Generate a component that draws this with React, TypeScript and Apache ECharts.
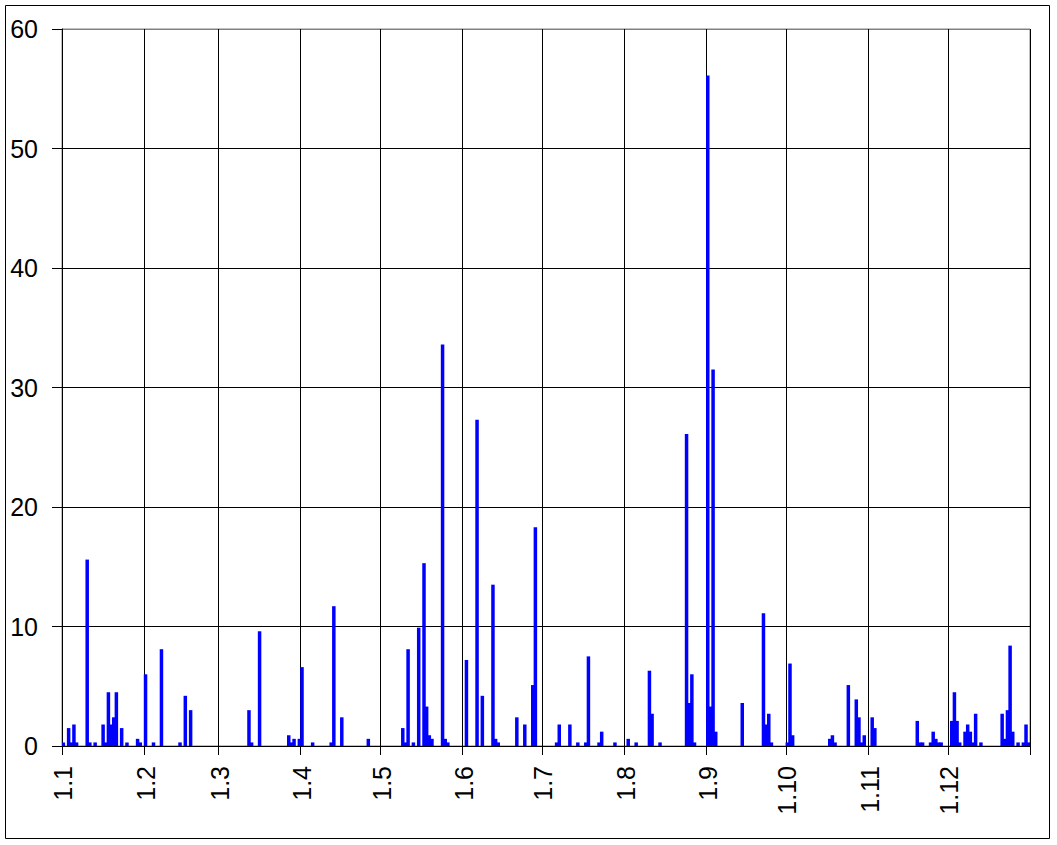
import React, { useEffect, useRef } from "react";
import * as echarts from "echarts";

// Month boundaries and tick labels (day.month)
const monthLengths = [31, 28, 31, 30, 31, 30, 31, 31, 30, 31, 30, 31];
const monthLabels = ["1.1", "1.2", "1.3", "1.4", "1.5", "1.6", "1.7", "1.8", "1.9", "1.10", "1.11", "1.12"];

// Day of year (0 = 1 January) of every day with a value
const wetDays = [
  0, 2, 3, 4, 5, 9, 10, 12, 15, 16, 17, 18, 19, 20, 22, 24, 28, 29,
  31, 34, 37, 44, 46, 48,
  70, 71, 74, 85, 86, 87, 89,
  90, 94, 101, 102, 105, 115,
  128, 129, 130, 132, 134, 136, 137, 138, 139, 143, 144, 145,
  152, 156, 158, 162, 163, 164, 171, 174, 177, 178,
  186, 187, 191, 194, 197, 198, 202, 203, 208,
  213, 216, 221, 222, 225, 235, 236, 237, 238,
  243, 244, 245, 246, 256, 264, 265, 266, 267,
  273, 274, 275, 289, 290, 291, 296, 299, 300, 301, 302,
  305, 306, 322, 323, 324, 327, 328, 329, 330, 331,
  335, 336, 337, 338, 340, 341, 342, 343, 344, 346, 354, 355, 356, 357, 358, 360, 362, 363, 364,
];

// Value of each of those days
const dailyValues = [
  0.3, 1.5, 0.3, 1.8, 0.3, 15.6, 0.3, 0.3, 1.8, 0.3, 4.5, 1.8, 2.4, 4.5, 1.5, 0.3, 0.6, 0.3,
  6.0, 0.3, 8.1, 0.3, 4.2, 3.0,
  3.0, 0.3, 9.6, 0.9, 0.3, 0.6, 0.6,
  6.6, 0.3, 0.3, 11.7, 2.4, 0.6,
  1.5, 0.3, 8.1, 0.3, 9.9, 15.3, 3.3, 0.9, 0.6, 33.6, 0.6, 0.3,
  7.2, 27.3, 4.2, 13.5, 0.6, 0.3, 2.4, 1.8, 5.1, 18.3,
  0.3, 1.8, 1.8, 0.3, 0.3, 7.5, 0.3, 1.2, 0.3,
  0.6, 0.3, 6.3, 2.7, 0.3, 26.1, 3.6, 6.0, 0.3,
  56.1, 3.3, 31.5, 1.2, 3.6, 11.1, 1.8, 2.7, 0.3,
  0.3, 6.9, 0.9, 0.6, 0.9, 0.3, 5.1, 3.9, 2.4, 0.3, 0.9,
  2.4, 1.5, 2.1, 0.3, 0.3, 0.3, 1.2, 0.6, 0.3, 0.3,
  2.1, 4.5, 2.1, 0.3, 1.2, 1.8, 1.2, 0.3, 2.7, 0.3, 2.7, 0.6, 3.0, 8.4, 1.2, 0.3, 0.3, 1.8, 0.3,
];

const yTicks = [0, 10, 20, 30, 40, 50, 60];

export default function App() {
  const ref = useRef<HTMLDivElement>(null);

  useEffect(() => {
    if (!ref.current) return;
    const chart = echarts.init(ref.current, null, { renderer: "svg" });

    const categories: string[] = [];
    const isMonthStart: boolean[] = [];
    monthLengths.forEach((len, m) => {
      for (let d = 1; d <= len; d++) {
        categories.push(d === 1 ? monthLabels[m] : `${d}.${m + 1}`);
        isMonthStart.push(d === 1);
      }
    });
    const values: number[] = categories.map(() => 0);
    wetDays.forEach((day, i) => {
      values[day] = dailyValues[i];
    });

    const font = "'Liberation Sans', Arial, sans-serif";
    const startFn = (i: number) => isMonthStart[i];

    chart.setOption({
      animation: false,
      backgroundColor: "#ffffff",
      grid: {
        left: 62,
        top: 29,
        right: 27,
        bottom: 99,
        show: true,
        borderColor: "#808080",
        borderWidth: 1,
        backgroundColor: "transparent",
      },
      xAxis: {
        type: "category",
        data: categories,
        boundaryGap: true,
        axisLine: { show: true, lineStyle: { color: "#000", width: 1 } },
        axisTick: { show: true, interval: startFn, length: 9, lineStyle: { color: "#000", width: 1 } },
        axisLabel: {
          interval: startFn,
          rotate: 90,
          margin: 20,
          fontSize: 25,
          color: "#000",
          fontFamily: font,
        },
        splitLine: { show: true, interval: startFn, lineStyle: { color: "#000", width: 1 } },
      },
      yAxis: {
        type: "value",
        min: yTicks[0],
        max: yTicks[yTicks.length - 1],
        interval: 10,
        axisLine: { show: true, lineStyle: { color: "#000", width: 1 } },
        axisTick: { show: true, length: 10, lineStyle: { color: "#000", width: 1 } },
        axisLabel: { fontSize: 25, color: "#000", margin: 24, fontFamily: font },
        splitLine: {
          show: true,
          lineStyle: { color: ["#000", "#000", "#000", "#000", "#000", "#000", "#808080"], width: 1 },
        },
      },
      series: [
        {
          type: "bar",
          data: values,
          barWidth: 3.5,
          itemStyle: { color: "#0000ff" },
        },
      ],
      graphic: [
        {
          type: "rect",
          shape: { x: 5.5, y: 5.5, width: 1044, height: 833 },
          style: { fill: "none", stroke: "#000", lineWidth: 1 },
          silent: true,
        },
      ],
    });

    return () => chart.dispose();
  }, []);

  return (
    <div
      ref={ref}
      style={{ position: "absolute", left: 0, top: 0, width: 1057, height: 845 }}
    />
  );
}
